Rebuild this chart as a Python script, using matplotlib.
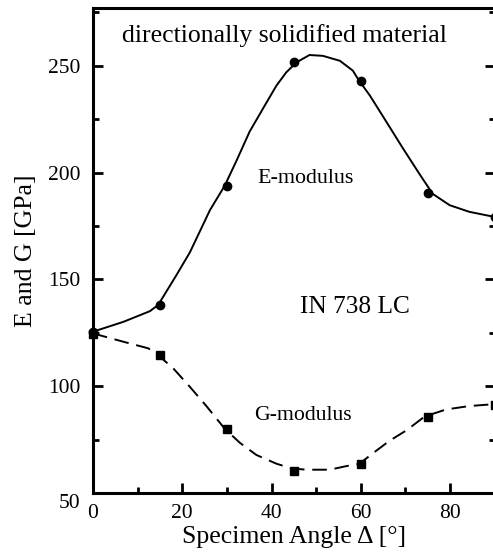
import matplotlib
matplotlib.use("Agg")
import matplotlib.pyplot as plt
from matplotlib.ticker import MultipleLocator
from matplotlib.transforms import ScaledTranslation

plt.rcParams['font.family'] = ['Liberation Serif', 'DejaVu Serif']

# measured points
angles = [0, 15, 30, 45, 60, 75, 90]
e_points = [125.5, 138.0, 193.8, 251.6, 243.0, 190.3, 179.0]
g_points = [124.5, 114.5, 80.1, 60.5, 63.7, 85.8, 91.0]

# drawn fit curves
e_curve_angles = [0, 6.8, 12.75, 14.6, 18.7, 21.7, 26.2, 29.5, 32.1, 35.1, 38.1, 41.1, 43.3,
                  45.6, 48.5, 51.5, 55.3, 58.2, 59.6, 62.0, 65.7, 69.4, 73.2, 76.1, 79.9,
                  84.3, 90]
e_curve = [125.5, 130.1, 135.1, 138.0, 152.0, 162.6, 182.4, 193.8, 205.3, 219.2, 230.0, 240.7,
           246.9, 251.6, 255.0, 254.6, 252.3, 247.7, 243.0, 236.1, 223.8, 211.4, 199.1, 190.0,
           184.7, 181.6, 179.2]
g_curve_angles = [0, 6.8, 12.4, 14.6, 18.0, 21.7, 25.4, 29.5, 32.9, 36.6, 41.1, 44.5, 47.8,
                  53.0, 56.8, 59.7, 62.7, 66.4, 70.2, 74.3, 79.1, 84.3, 90]
g_curve = [124.7, 120.8, 117.7, 114.5, 108.3, 99.7, 90.7, 80.1, 73.5, 67.8, 63.7, 61.5, 60.9,
           60.9, 62.6, 63.7, 68.6, 74.4, 79.3, 85.8, 89.1, 90.7, 91.6]

fig = plt.figure(figsize=(4.93, 5.52), dpi=100)
ax = fig.add_axes([0.1886, 0.1069, 0.815, 0.8786])

ax.plot(e_curve_angles, e_curve, color='black', lw=1.4, clip_on=False,
        solid_joinstyle='round')
ax.plot(g_curve_angles, g_curve, color='black', lw=1.4, ls=(0, (7.5, 4)), clip_on=False)
ax.plot(angles, e_points, 'o', color='black', ms=6, clip_on=False, zorder=5)
ax.plot(angles, g_points, 's', color='black', ms=5.5, clip_on=False, zorder=5)

ax.set_xlim(0, 90)
ax.set_ylim(50, 277)
ax.xaxis.set_major_locator(MultipleLocator(20))
ax.xaxis.set_minor_locator(MultipleLocator(10))
ax.yaxis.set_major_locator(MultipleLocator(50))
ax.yaxis.set_minor_locator(MultipleLocator(25))
ax.tick_params(which='both', direction='in', right=True, top=False, labelsize=15.5, width=2)
ax.tick_params(which='major', length=7)
ax.tick_params(which='minor', length=4)
ax.tick_params(axis='x', pad=8)
ax.tick_params(axis='y', pad=9)
for s in ax.spines.values():
    s.set_linewidth(2.2)

# lowest y label sits slightly below its tick in the reference
fig.canvas.draw()
for lab in ax.get_yticklabels():
    if lab.get_text() == '50':
        lab.set_transform(lab.get_transform() + ScaledTranslation(0, -6 / 72, fig.dpi_scale_trans))

ax.set_xlabel('Specimen Angle Δ [°]', fontsize=18.5, labelpad=2)
ax.set_ylabel('E and G [GPa]', fontsize=18.5, labelpad=8)

ax.text(6.5, 261.1, 'directionally solidified material', fontsize=18.5, va='baseline', ha='left')
ax.text(47.6, 195.3, 'E-modulus', fontsize=15.8, va='baseline', ha='center')
ax.text(58.6, 134.3, 'IN 738 LC', fontsize=18.3, va='baseline', ha='center')
ax.text(47.0, 84.0, 'G-modulus', fontsize=15.7, va='baseline', ha='center')

fig.savefig('out.png', dpi=100)
